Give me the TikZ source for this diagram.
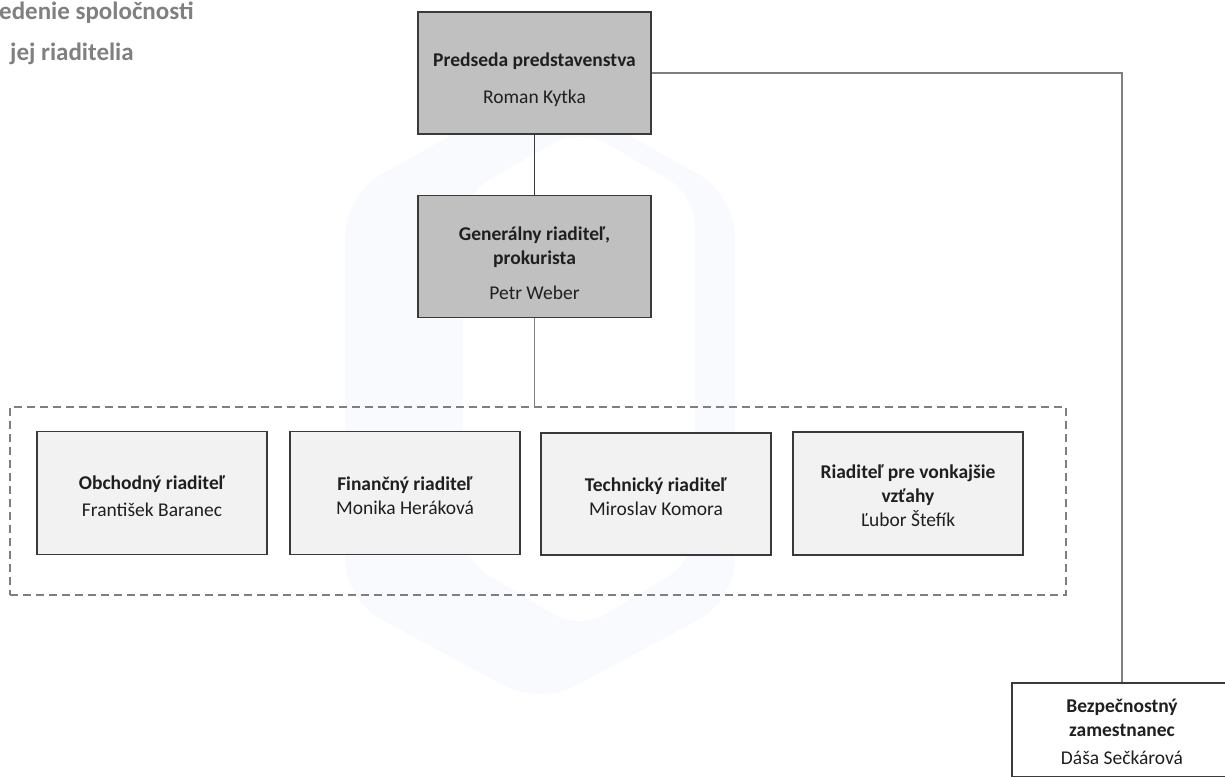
\documentclass[tikz,border=0pt]{standalone}
\usepackage{fontspec}
\setmainfont{Carlito}
\usetikzlibrary{calc}
\definecolor{boxline}{HTML}{3A3A3A}
\definecolor{darkfill}{HTML}{C0C0C0}
\definecolor{lightfill}{HTML}{F2F2F2}
\definecolor{connector}{HTML}{7F7F7F}
\definecolor{titlegray}{HTML}{808080}
\definecolor{wmark}{HTML}{F9FAFD}
\tikzset{
  orgbox/.style={draw=boxline, line width=1.4pt, inner sep=0pt},
  topbox/.style={orgbox, fill=darkfill, minimum width=233pt, minimum height=122pt},
  dirbox/.style={orgbox, fill=lightfill, minimum width=230pt, minimum height=123pt},
  secbox/.style={orgbox, fill=white, minimum width=220pt, minimum height=94pt},
  boxtext/.style={align=center, inner sep=0pt, font=\fontsize{19.5}{24}\selectfont, text=black!88},
  link/.style={draw=connector, line width=1.1pt},
  strong/.style={draw=boxline, line width=1.4pt},
  grpbox/.style={draw=connector, line width=2pt, dash pattern=on 8pt off 5pt, inner sep=0pt},
  title/.style={font=\fontsize{25}{30}\selectfont\bfseries, text=titlegray, anchor=base west, inner sep=0pt}
}
\begin{document}
\begin{tikzpicture}[x=1pt,y=-1pt]
\useasboundingbox (0,0) rectangle (1225,776);
% faint watermark
\fill[wmark, rounded corners=40pt] (540,85) -- (735,195) -- (735,600) -- (540,705) -- (345,600) -- (345,195) -- cycle;
\fill[white, rounded corners=30pt] (580,128) -- (695,195) -- (695,560) -- (580,630) -- (463,560) -- (463,195) -- cycle;
% title
\node[title] (t1) at (-1,20) {edenie spoločnosti};
\node[title] (t2) at (10,60) {jej riaditelia};
% boxes
\node[topbox] (pred) at (534.5,73) {};
\node[topbox] (gen) at (534.5,256.5) {};
\node[grpbox, minimum width=1056pt, minimum height=188pt] (grp) at (538,501) {};
\node[dirbox] (obch) at (152,493) {};
\node[dirbox] (fin) at (405,493) {};
\node[dirbox, minimum height=122pt] (tech) at (656,494) {};
\node[dirbox] (vonk) at (908,493.5) {};
\node[secbox] (bez) at (1122,730) {};
% texts
\node[boxtext] (pred-t) at ($(pred.center)+(0,7)$) {\textbf{Predseda predstavenstva}\\[13pt]Roman Kytka};
\node[boxtext] (gen-t) at ($(gen.center)+(0,6.5)$) {\textbf{Generálny riaditeľ,}\\\textbf{prokurista}\\[11pt]Petr Weber};
\node[boxtext] (obch-t) at ($(obch.center)+(0,3)$) {\textbf{Obchodný riaditeľ}\\[3pt]František Baranec};
\node[boxtext] (fin-t) at ($(fin.center)+(0,3)$) {\textbf{Finančný riaditeľ}\\Monika Heráková};
\node[boxtext] (tech-t) at ($(tech.center)+(0,2.5)$) {\textbf{Technický riaditeľ}\\Miroslav Komora};
\node[boxtext] (vonk-t) at ($(vonk.center)+(0,2.5)$) {\textbf{Riaditeľ pre vonkajšie}\\\textbf{vzťahy}\\Ľubor Štefík};
\node[boxtext] (bez-t) at ($(bez.center)+(0,2)$) {\textbf{Bezpečnostný}\\\textbf{zamestnanec}\\[4pt]Dáša Sečkárová};
% connectors
\draw[strong] (pred.south) -- (gen.north);
\draw[link] (gen.south) -- (gen.south |- grp.north);
\draw[link] (pred.east) -| (bez.north);
\end{tikzpicture}
\end{document}
